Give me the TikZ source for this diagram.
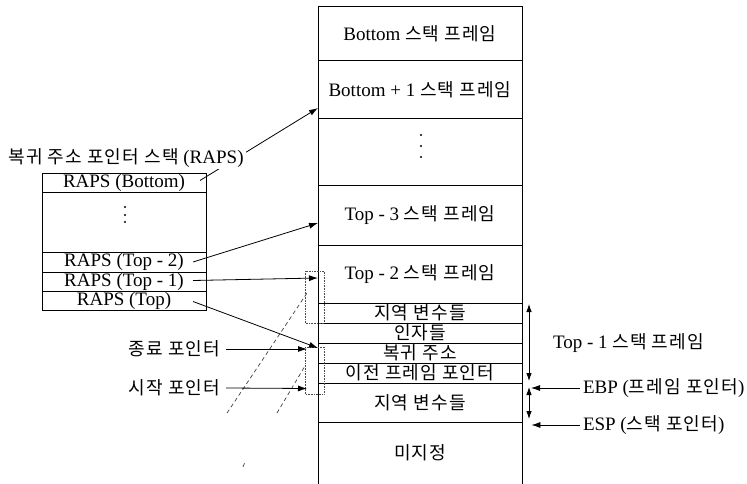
\documentclass[tikz,border=0pt]{standalone}
\usepackage{fontspec}
\setmainfont{Liberation Serif}
\newfontfamily\krfont[Scale=0.95,LetterSpace=6]{Noto Sans CJK KR}
\newcommand\kor[1]{{\krfont #1}}
\usetikzlibrary{arrows.meta,calc}
\begin{document}
\begin{tikzpicture}[x=1pt,y=-1pt,
  font=\fontsize{19}{21}\selectfont,
  cell/.style={draw, line width=1pt, anchor=north west, inner sep=0pt, outer sep=0pt},
  mrow/.style={cell, minimum width=204pt},
  lrow/.style={cell, minimum width=164pt},
  lbl/.style={inner sep=0pt, outer sep=0pt},
  dot/.style={fill, circle, inner sep=0pt, minimum size=2.4pt},
  arr/.style={line width=0.8pt, -{Latex[length=9pt,width=6pt]}},
  darr/.style={line width=0.8pt, {Latex[length=8pt,width=5.5pt]}-{Latex[length=8pt,width=5.5pt]}},
  ghost/.style={gray!60!black, line width=0.6pt, densely dotted},
  ghostdash/.style={gray!50!black, line width=0.7pt, dash pattern=on 4pt off 3pt}]
\useasboundingbox (0,0) rectangle (747,484);

% main stack
\node[mrow, minimum height=54pt] (b0) at (318,7) {Bottom \kor{스택 프레임}};
\node[mrow, minimum height=58pt] (b1) at (318,61) {Bottom + 1 \kor{스택 프레임}};
\node[mrow, minimum height=66pt] (bd) at (318,119) {};
\node[mrow, minimum height=60pt] (t3) at (318,185) {Top - 3 \kor{스택 프레임}};
\node[mrow, minimum height=58pt] (t2) at (318,245) {Top - 2 \kor{스택 프레임}};
\node[mrow, minimum height=20pt] (lv1) at (318,303) {\kor{지역 변수들}};
\node[mrow, minimum height=20pt] (arg) at (318,323) {\kor{인자들}};
\node[mrow, minimum height=20pt] (ra) at (318,343) {\kor{복귀 주소}};
\node[mrow, minimum height=20pt] (pfp) at (318,363) {\kor{이전 프레임 포인터}};
\node[mrow, minimum height=39pt] (lv2) at (318,383) {\kor{지역 변수들}};
\node[anchor=north west, inner sep=0pt, minimum width=204pt, minimum height=62pt] (un) at (318,422) {\kor{미지정}};
\draw[line width=1pt] (un.south west) -- (un.north west) -- (un.north east) -- (un.south east);
\foreach \d in {-11,0,11} \node[dot] at ($(bd.center)+(1,\d-6)$) {};

% RAPS stack
\node[lrow, minimum height=19pt] (rb) at (42,173) {RAPS (Bottom)};
\node[lrow, minimum height=60pt] (rd) at (42,192) {};
\node[lrow, minimum height=20pt] (r2) at (42,252) {RAPS (Top - 2)};
\node[lrow, minimum height=19pt] (r1) at (42,272) {RAPS (Top - 1)};
\node[lrow, minimum height=19pt] (r0) at (42,291) {RAPS (Top)};
\foreach \d in {-8,0,7} \node[dot] at ($(rd.center)+(1,\d-7)$) {};

% ghost marks (scan traces)
\draw[ghost] (305,271) rectangle (324,323);
\draw[ghost] (305,347) rectangle (324,394);
\draw[ghostdash] (227,413) -- (307,293);
\draw[ghostdash] (277,413) -- (305,366);
\draw[ghostdash] (243,467) -- (245,462);

% RAPS arrows
\coordinate (s1) at ($(rb.east)+(-6,-2)$);
\coordinate (e1) at ($(b1.west)+(0,18)$);
\draw[arr] (s1) -- (e1);
\coordinate (s2) at ($(r2.east)+(-13,0)$);
\coordinate (e2) at ($(t3.west)+(0,8)$);
\draw[arr] (s2) -- (e2);
\coordinate (s3) at ($(r1.east)+(-13,-1)$);
\coordinate (e3) at ($(t2.west)+(0,4)$);
\draw[arr] (s3) -- (e3);
\coordinate (s4) at ($(r0.east)+(-13,1)$);
\coordinate (e4) at ($(ra.west)+(0,-5)$);
\draw[arr] (s4) -- (e4);

% title (over arrow)
\node[lbl, fill=white, inner sep=2pt] (title) at (126,158) {\kor{복귀 주소 포인터 스택} (RAPS)};

% end / start pointers
\node[lbl, anchor=east] (endp) at (220,349) {\kor{종료 포인터}};
\node[lbl, anchor=east] (startp) at (220,388) {\kor{시작 포인터}};
\coordinate (e5) at ($(ra.west)+(-11,-4)$);
\coordinate (e6) at ($(lv2.west)+(-11,-14)$);
\draw[arr] ($(endp.east)+(6,0)$) -- (e5);
\draw[arr] ($(startp.east)+(6,0)$) -- (e6);

% right side
\draw[darr] ($(lv1.north east)+(7,1)$) -- ($(pfp.south east)+(7,-2)$);
\draw[darr] ($(lv2.north east)+(7,4)$) -- ($(lv2.south east)+(7,-3)$);
\node[lbl, anchor=west] (top1) at (553,343) {Top - 1 \kor{스택 프레임}};
\node[lbl, anchor=west] (ebp) at (583,388) {EBP (\kor{프레임 포인터})};
\node[lbl, anchor=west] (esp) at (583,425) {ESP (\kor{스택 포인터})};
\draw[arr] ($(ebp.west)+(-3,0)$) -- ($(lv2.north east)+(9,5)$);
\draw[arr] ($(esp.west)+(-3,0)$) -- ($(un.north east)+(9,3)$);
\end{tikzpicture}
\end{document}
